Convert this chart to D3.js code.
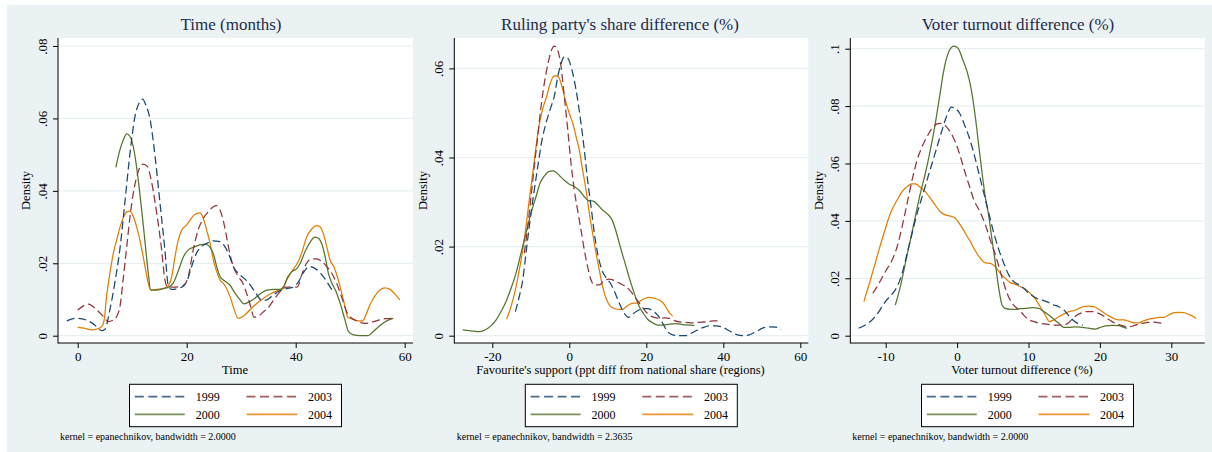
<!DOCTYPE html>
<html>
<head>
<meta charset="utf-8">
<script src="https://cdn.jsdelivr.net/npm/d3@7"></script>
<style>
  body { margin: 0; background: #ffffff; }
  svg text { font-family: "Liberation Serif", "Times New Roman", Times, serif; }
</style>
</head>
<body>
<svg id="chart" width="1212" height="452"></svg>
<script>
// ---- Data: kernel density estimates, [x, density] pairs per year ----
const years = ["1999", "2003", "2000", "2004"];

const time1999 = [[-2.0,.0041],[-0.2,.0048],[1.65,.0043],[3.5,.0025],[4.4,.0014],[5.0,.0018],[5.9,.0071],[6.8,.0145],[7.8,.0246],[8.7,.0375],[9.6,.0504],[10.5,.0605],[11.4,.0646],[11.9,.0653],[12.5,.0637],[13.3,.0596],[14.2,.0495],[15.1,.0366],[16.0,.0237],[16.6,.014],[17.2,.0128],[18.5,.0131],[19.4,.0137],[20.0,.0149],[20.9,.0191],[21.8,.0228],[22.75,.0246],[23.7,.0255],[24.9,.0262],[26.1,.026],[27.0,.0246],[27.9,.0218],[28.55,.0191],[29.8,.0168],[31.0,.0152],[31.9,.0135],[32.8,.0115],[33.8,.0097],[34.7,.0099],[35.9,.0113],[37.1,.0124],[38.3,.013],[39.6,.0134],[40.5,.0149],[41.4,.0174],[42.5,.0191],[43.5,.0186],[44.5,.0174],[45.4,.0156],[46.3,.0135],[47.0,.0119]];
const time2003 = [[0,.0071],[1.95,.0087],[3.5,.0071],[4.7,.0053],[5.6,.0039],[6.5,.0043],[7.15,.0053],[7.75,.008],[8.4,.0163],[9.0,.0246],[9.6,.0329],[10.3,.0402],[11.1,.0453],[12.0,.0474],[12.8,.0467],[13.6,.0421],[14.5,.0338],[15.4,.0237],[16.0,.0154],[16.45,.0135],[17.55,.0134],[18.8,.0135],[19.5,.014],[20.3,.0163],[21.2,.0237],[22.1,.0292],[23.05,.0324],[24.0,.0343],[24.9,.0356],[25.5,.0359],[26.1,.0347],[26.7,.0319],[27.3,.0274],[27.9,.0228],[28.55,.0191],[29.5,.0163],[30.3,.0145],[31.0,.0117],[31.75,.008],[32.35,.0051],[33.1,.0054],[34.1,.0066],[35.0,.0078],[35.9,.0097],[37.1,.0121],[38.3,.0134],[39.6,.0134],[40.3,.0135],[41.1,.0168],[42.0,.02],[42.9,.0212],[43.85,.0212],[44.8,.0205],[45.7,.0191],[46.6,.0173],[47.5,.0145],[48.4,.0108],[49.35,.0066],[50.3,.0048],[51.5,.0039],[52.7,.0034],[53.9,.0037],[55.2,.0043],[56.4,.0047],[57.9,.0048]];
const time2000 = [[7.0,.0465],[7.75,.0513],[8.4,.0542],[9.0,.0557],[9.6,.055],[10.2,.0522],[10.8,.0467],[11.4,.0393],[12.0,.031],[12.5,.0237],[12.95,.0172],[13.4,.0126],[14.5,.0126],[15.7,.013],[16.6,.0134],[17.55,.0146],[18.5,.0181],[19.4,.0218],[20.3,.0237],[21.2,.0244],[22.4,.0251],[23.5,.0253],[24.3,.0244],[24.9,.0226],[25.5,.0191],[26.2,.0161],[27.0,.0151],[27.9,.014],[28.9,.0117],[29.8,.0099],[30.5,.0088],[31.3,.0092],[32.2,.01],[33.45,.0115],[34.7,.0126],[35.9,.0128],[37.1,.0128],[37.85,.0137],[38.5,.0161],[39.3,.0177],[40.2,.0185],[40.9,.0202],[41.7,.0232],[42.6,.0257],[43.5,.0272],[44.15,.0269],[44.8,.0253],[45.4,.0218],[46.0,.0172],[46.6,.0146],[47.4,.0122],[48.25,.0085],[49.05,.0043],[49.7,.0011],[50.6,.0002],[51.8,0],[53.3,0],[53.9,.0007],[54.85,.002],[55.8,.0032],[56.7,.0041],[57.9,.0048]];
const time2004 = [[0,.0023],[1.35,.002],[2.55,.0016],[3.5,.0018],[4.4,.0025],[4.85,.0043],[5.3,.0108],[5.9,.0172],[6.55,.0228],[7.15,.0264],[7.75,.0299],[8.4,.0327],[9.0,.0342],[9.5,.0344],[10.1,.0333],[10.8,.0301],[11.55,.0255],[12.35,.0191],[12.95,.0145],[13.4,.0126],[14.5,.0128],[15.7,.0131],[16.45,.0135],[17.25,.0163],[17.85,.0218],[18.45,.0264],[19.1,.0292],[20.0,.0306],[20.6,.0318],[21.2,.0331],[21.95,.0338],[22.45,.0339],[23.05,.0324],[23.65,.0292],[24.3,.0255],[24.9,.0209],[25.5,.0177],[26.1,.0154],[26.7,.0145],[27.3,.0131],[27.95,.0108],[28.55,.008],[29.45,.0048],[30.3,.0053],[31.0,.0062],[31.9,.0076],[32.85,.0089],[34.05,.0103],[35.3,.0115],[36.5,.0124],[37.4,.0126],[38.35,.0154],[39.25,.0177],[40.3,.02],[41.1,.0228],[42.0,.0272],[42.9,.0294],[43.85,.0304],[44.45,.0301],[45.05,.0283],[45.7,.0246],[46.3,.0209],[47.05,.0189],[47.8,.0154],[48.45,.0117],[49.05,.008],[49.55,.0051],[50.45,.0046],[51.5,.0041],[52.3,.0041],[52.9,.0058],[53.6,.0085],[54.55,.011],[55.45,.0126],[56.4,.0132],[57.3,.0128],[58.2,.0115],[59.1,.0099]];

const share1999 = [[-14.0,.0054],[-13.0,.0088],[-12.1,.0125],[-11.25,.0185],[-10.4,.0245],[-9.35,.0312],[-8.2,.0379],[-7.1,.0439],[-6.05,.0477],[-4.75,.0514],[-3.9,.0537],[-3.0,.0581],[-2.15,.0611],[-1.3,.0626],[-0.4,.0623],[0.7,.0596],[1.75,.0552],[2.8,.0492],[3.9,.0417],[4.75,.0349],[5.65,.029],[6.5,.023],[7.35,.0185],[8.5,.0147],[9.5,.0131],[10.8,.0116],[11.95,.0095],[13.0,.0073],[14.3,.005],[15.4,.0041],[16.5,.0049],[17.75,.0056],[19.05,.0061],[20.35,.0061],[21.65,.0056],[22.95,.0046],[24.25,.0028],[25.55,.0009],[26.85,.0002],[28.6,0],[30.3,0],[31.6,.0005],[32.9,.0011],[34.65,.0018],[36.35,.0022],[38.1,.0022],[39.85,.0019],[41.55,.0011],[43.3,.0003],[45.0,0],[46.75,.0002],[48.5,.0009],[50.2,.0017],[51.95,.002],[53.7,.0019],[55.0,.0014]];
const share2003 = [[-11.7,.0185],[-10.8,.0245],[-9.95,.0312],[-9.1,.0379],[-8.2,.0447],[-7.35,.0514],[-6.5,.0566],[-5.6,.0608],[-4.75,.0638],[-3.9,.065],[-3.0,.0641],[-2.15,.0604],[-1.3,.0537],[-0.4,.0462],[0.45,.0387],[1.3,.0327],[2.15,.0282],[3.05,.0237],[3.9,.0192],[4.75,.0155],[5.65,.0125],[6.5,.0114],[7.8,.0114],[9.1,.0124],[10.4,.0127],[11.7,.0124],[13.0,.0118],[14.3,.0112],[15.6,.0103],[16.9,.0089],[18.2,.0073],[19.5,.0058],[20.8,.0046],[22.1,.0041],[23.4,.0039],[24.7,.004],[26.0,.0039],[27.3,.0034],[28.6,.0031],[30.3,.003],[32.05,.0029],[33.75,.003],[35.5,.0031],[37.25,.0033],[38.55,.0033]];
const share2000 = [[-27.7,.0013],[-25.5,.0011],[-23.4,.0009],[-21.65,.0014],[-20.35,.0022],[-19.05,.0035],[-17.75,.0054],[-16.45,.0076],[-15.15,.0106],[-13.85,.014],[-12.55,.0185],[-11.25,.023],[-9.95,.0275],[-8.65,.0312],[-7.6,.0342],[-6.5,.0358],[-5.2,.0369],[-4.3,.037],[-3.45,.0367],[-2.4,.0358],[-1.3,.0349],[0,.034],[1.3,.0335],[2.6,.0326],[3.9,.0312],[5.05,.0303],[6.25,.0302],[7.35,.0294],[8.65,.0282],[9.95,.0273],[11.1,.026],[12.15,.0234],[13.0,.0207],[13.85,.0181],[14.75,.0155],[15.6,.0129],[16.45,.0106],[17.3,.0084],[18.2,.0065],[19.25,.005],[20.35,.0037],[21.65,.0029],[22.95,.0024],[24.25,.0024],[26.0,.0026],[27.7,.0027],[29.45,.0025],[31.2,.0024],[32.5,.0023]];
const share2004 = [[-16.3,.0037],[-15.15,.0065],[-14.0,.0103],[-13.0,.0147],[-12.1,.0192],[-11.25,.0245],[-10.4,.0305],[-9.5,.0364],[-8.65,.0424],[-7.8,.0475],[-6.75,.0514],[-5.9,.0537],[-5.0,.0565],[-4.3,.058],[-3.65,.0584],[-2.75,.058],[-1.9,.0559],[-1.05,.0529],[0,.0499],[0.9,.0477],[1.75,.0447],[2.6,.0417],[3.45,.0372],[4.35,.0327],[5.2,.0275],[6.05,.023],[6.95,.0185],[7.8,.0147],[8.65,.011],[9.55,.0084],[10.55,.0067],[11.7,.0061],[13.0,.0059],[13.85,.0059],[14.75,.0065],[15.6,.007],[16.9,.0073],[17.75,.0073],[18.6,.0079],[19.75,.0084],[20.8,.0086],[22.1,.0084],[23.4,.008],[24.4,.0073],[25.3,.0061],[26.15,.005],[26.85,.0044]];

const turnout1999 = [[-13.8,.0026],[-12.85,.0037],[-11.9,.0055],[-10.95,.0084],[-10.05,.0119],[-9.1,.0145],[-8.4,.0171],[-7.7,.0217],[-7.0,.0287],[-6.3,.0357],[-5.6,.0426],[-4.9,.0484],[-4.2,.0543],[-3.5,.0601],[-2.8,.0659],[-2.1,.0717],[-1.4,.0769],[-0.8,.0796],[-0.25,.0792],[0.35,.0775],[0.95,.074],[1.65,.0694],[2.35,.0635],[3.05,.0566],[3.75,.0496],[4.45,.0426],[5.15,.0357],[5.85,.0299],[6.55,.0252],[7.25,.0211],[7.95,.0188],[8.65,.0177],[9.35,.0165],[10.05,.0148],[10.75,.0136],[11.45,.0127],[12.15,.0122],[12.85,.0115],[13.55,.0107],[14.25,.0101],[14.95,.009],[15.65,.0069],[16.35,.0052],[17.05,.0041],[17.6,.0037]];
const turnout2003 = [[-11.8,.0148],[-10.95,.0182],[-10.05,.0223],[-9.1,.0264],[-8.4,.031],[-7.7,.038],[-7.0,.0461],[-6.3,.0543],[-5.6,.0612],[-4.9,.0659],[-4.2,.0694],[-3.5,.0723],[-2.8,.0738],[-2.35,.074],[-1.75,.0734],[-1.15,.0717],[-0.6,.0694],[0,.0659],[0.6,.0612],[1.15,.0566],[1.75,.0519],[2.35,.0473],[2.95,.0444],[3.5,.0415],[4.05,.038],[4.65,.0333],[5.3,.0287],[5.85,.0241],[6.4,.0194],[7.0,.0148],[7.7,.0113],[8.4,.0095],[9.1,.0078],[9.8,.006],[10.75,.0049],[11.65,.0043],[12.6,.004],[13.55,.0037],[14.45,.0037],[15.4,.0041],[16.1,.0057],[16.8,.0072],[17.5,.008],[18.2,.0084],[18.9,.0084],[19.6,.008],[20.3,.0072],[21.0,.006],[21.7,.0049],[22.4,.0041],[23.1,.0035],[24.05,.0031],[24.75,.0035],[25.45,.0041],[26.4,.0045],[27.3,.0048],[28.25,.0045],[28.95,.0043]];
const turnout2000 = [[-8.65,.0107],[-7.95,.0171],[-7.25,.0252],[-6.55,.0333],[-5.85,.0415],[-5.15,.0496],[-4.45,.0566],[-3.75,.0647],[-3.05,.074],[-2.45,.0833],[-1.85,.0926],[-1.15,.099],[-0.45,.1009],[0.15,.1001],[0.8,.0961],[1.4,.092],[2.0,.0856],[2.55,.0763],[3.05,.0659],[3.5,.0566],[3.95,.0484],[4.45,.0415],[4.9,.0333],[5.3,.0264],[5.6,.0206],[5.95,.0148],[6.3,.0107],[6.75,.0095],[7.45,.0092],[8.15,.0092],[8.85,.0094],[9.55,.0095],[10.5,.0098],[11.45,.0095],[12.15,.0084],[12.85,.0072],[13.55,.0057],[14.25,.0043],[14.95,.0029],[15.65,.0029],[16.55,.0031],[17.5,.0029],[18.45,.0026],[19.35,.0023],[20.05,.0029],[20.8,.0034],[21.7,.0036],[22.65,.0035],[23.35,.0029],[23.8,.0026]];
const turnout2004 = [[-13.05,.0119],[-12.15,.0194],[-11.2,.0276],[-10.25,.0357],[-9.35,.0426],[-8.4,.0473],[-7.7,.0502],[-7.0,.0519],[-6.4,.0529],[-5.85,.0529],[-5.15,.0517],[-4.45,.0502],[-3.75,.0479],[-3.05,.0455],[-2.35,.0432],[-1.65,.0421],[-0.95,.0417],[-0.25,.0409],[0.45,.0386],[1.15,.0357],[1.85,.0328],[2.55,.0296],[3.25,.027],[3.95,.0254],[4.65,.0252],[5.35,.0241],[6.05,.0217],[6.75,.02],[7.45,.0185],[8.15,.0179],[8.85,.0171],[9.55,.0162],[10.25,.0148],[10.95,.0128],[11.65,.0101],[12.35,.0072],[12.95,.0049],[13.55,.0055],[14.25,.0066],[14.95,.0076],[15.65,.0084],[16.35,.0087],[17.05,.0095],[17.75,.0101],[18.45,.0103],[19.15,.0101],[19.85,.0092],[20.55,.008],[21.25,.0069],[21.95,.006],[22.65,.0055],[23.35,.0055],[24.05,.0051],[24.75,.0045],[25.45,.0045],[26.15,.0052],[26.85,.0058],[27.55,.006],[28.25,.0064],[28.95,.0064],[29.65,.0072],[30.35,.008],[31.05,.0081],[31.75,.008],[32.45,.0074],[33.15,.0066],[33.45,.006]];

// ---- Axis ticks and labels ----
const timeXTicks = [0, 20, 40, 60];
const timeYTicks = [0, .02, .04, .06, .08];
const timeYLabels = ["0", ".02", ".04", ".06", ".08"];
const shareXTicks = [-20, 0, 20, 40, 60];
const shareYTicks = [0, .02, .04, .06];
const shareYLabels = ["0", ".02", ".04", ".06"];
const turnoutXTicks = [-10, 0, 10, 20, 30];
const turnoutYTicks = [0, .02, .04, .06, .08, .1];
const turnoutYLabels = ["0", ".02", ".04", ".06", ".08", ".1"];

// ---- Texts ----
const panelTitles = ["Time (months)", "Ruling party's share difference (%)", "Voter turnout difference (%)"];
const xTitles = ["Time", "Favourite's support (ppt diff from national share (regions)", "Voter turnout difference (%)"];
const yTitle = "Density";
const notes = ["kernel = epanechnikov, bandwidth = 2.0000",
               "kernel = epanechnikov, bandwidth = 2.3635",
               "kernel = epanechnikov, bandwidth = 2.0000"];

// ---- Styles ----
const serif = '"Liberation Serif", "Times New Roman", Times, serif';
const style = {
  "1999": { color: "#1a476f", dash: "8,4" },
  "2003": { color: "#90353b", dash: "8,4" },
  "2000": { color: "#55752f", dash: null },
  "2004": { color: "#e37e00", dash: null }
};

const panels = [
  { series: { "1999": time1999, "2003": time2003, "2000": time2000, "2004": time2004 },
    xTicks: timeXTicks, yTicks: timeYTicks, yLabels: timeYLabels,
    left: 58, right: 413, xd: [0, 60], xr: [77.7, 404.7], yd: [0, .08], yr: [335.7, 46],
    titleX: 231, xTitleX: 235, note: 60 },
  { series: { "1999": share1999, "2003": share2003, "2000": share2000, "2004": share2004 },
    xTicks: shareXTicks, yTicks: shareYTicks, yLabels: shareYLabels,
    left: 454.3, right: 808.3, xd: [-20, 60], xr: [492.3, 800.3], yd: [0, .06], yr: [335.7, 68.4],
    titleX: 620, xTitleX: 620.5, note: 456.7 },
  { series: { "1999": turnout1999, "2003": turnout2003, "2000": turnout2000, "2004": turnout2004 },
    xTicks: turnoutXTicks, yTicks: turnoutYTicks, yLabels: turnoutYLabels,
    left: 850.3, right: 1204.7, xd: [-10, 30], xr: [885.7, 1171.3], yd: [0, .1], yr: [335.7, 48.7],
    titleX: 1018, xTitleX: 1022, note: 852.3 }
];

const plotTop = 38, plotBottom = 343;
const svg = d3.select("#chart");

// graph region background
svg.append("rect").attr("x", 7).attr("y", 5).attr("width", 1205).attr("height", 447).attr("fill", "#eaf2f3");

panels.forEach((p, i) => {
  const g = svg.append("g");
  const x = d3.scaleLinear().domain(p.xd).range(p.xr);
  const y = d3.scaleLinear().domain(p.yd).range(p.yr);

  // plot region
  g.append("rect").attr("x", p.left).attr("y", plotTop)
    .attr("width", p.right - p.left).attr("height", plotBottom - plotTop).attr("fill", "#ffffff");

  // horizontal gridlines
  g.selectAll("line.grid").data(p.yTicks).join("line").attr("class", "grid")
    .attr("x1", p.left).attr("x2", p.right)
    .attr("y1", d => y(d)).attr("y2", d => y(d))
    .attr("stroke", "#e6eff1").attr("stroke-width", 1.2);

  // density curves
  const line = d3.line().x(d => x(d[0])).y(d => y(d[1])).curve(d3.curveMonotoneX);
  ["2004", "2000", "2003", "1999"].forEach(yr => {
    g.append("path").datum(p.series[yr]).attr("d", line)
      .attr("fill", "none").attr("stroke", style[yr].color).attr("stroke-width", 1.25)
      .attr("stroke-dasharray", style[yr].dash).attr("stroke-linejoin", "round");
  });

  // axis lines
  g.append("line").attr("x1", p.left).attr("x2", p.left).attr("y1", plotTop).attr("y2", plotBottom + 0.5)
    .attr("stroke", "#000").attr("stroke-width", 1);
  g.append("line").attr("x1", p.left).attr("x2", p.right).attr("y1", plotBottom).attr("y2", plotBottom)
    .attr("stroke", "#000").attr("stroke-width", 1);

  // y axis ticks and rotated labels
  const ya = g.append("g").attr("transform", `translate(${p.left},0)`)
    .call(d3.axisLeft(y).tickValues(p.yTicks).tickFormat((d, k) => p.yLabels[k]).tickSize(5).tickSizeOuter(0));
  ya.select(".domain").remove();
  ya.attr("font-size", null).attr("font-family", null);
  ya.selectAll(".tick line").attr("stroke", "#000");
  ya.selectAll(".tick text").attr("transform", "rotate(-90)").attr("x", 0).attr("y", -11)
    .attr("dy", 0).attr("text-anchor", "middle").attr("fill", "#000")
    .style("font-size", "13px").style("font-family", serif);

  // x axis ticks and labels (plain hyphen for negatives)
  const xa = g.append("g").attr("transform", `translate(0,${plotBottom})`)
    .call(d3.axisBottom(x).tickValues(p.xTicks).tickFormat(d => String(d)).tickSize(5).tickSizeOuter(0));
  xa.select(".domain").remove();
  xa.attr("font-size", null).attr("font-family", null);
  xa.selectAll(".tick line").attr("stroke", "#000");
  xa.selectAll(".tick text").attr("y", 8).attr("dy", "0.74em").attr("fill", "#000")
    .style("font-size", "13px").style("font-family", serif);

  // titles
  g.append("text").attr("x", p.titleX).attr("y", 30).attr("text-anchor", "middle")
    .attr("fill", "#1e2b4c").style("font-size", "17px").style("font-family", serif).text(panelTitles[i]);
  g.append("text").attr("x", p.xTitleX).attr("y", 374).attr("text-anchor", "middle")
    .attr("fill", "#000").style("font-size", "12.5px").style("font-family", serif).text(xTitles[i]);
  g.append("text").attr("transform", `translate(${p.left - 27.7},${(plotTop + plotBottom) / 2}) rotate(-90)`)
    .attr("text-anchor", "middle").attr("fill", "#000").style("font-size", "12.5px")
    .style("font-family", serif).text(yTitle);

  // legend
  const lx = (p.left + p.right) / 2 - 106;
  const lg = g.append("g").attr("transform", `translate(${lx},384.3)`);
  lg.append("rect").attr("x", 0).attr("y", 0).attr("width", 212).attr("height", 42.4)
    .attr("fill", "#fff").attr("stroke", "#000").attr("stroke-width", 1);
  const cols = [{ l0: 5.3, l1: 55.3, t: 90.3 }, { l0: 117, l1: 168, t: 202.6 }];
  const rows = [{ ly: 12.4, ty: 16.8 }, { ly: 30, ty: 34.8 }];
  years.forEach((yr, k) => {
    const c = cols[k % 2], r = rows[Math.floor(k / 2)];
    lg.append("line").attr("x1", c.l0).attr("x2", c.l1).attr("y1", r.ly).attr("y2", r.ly)
      .attr("stroke", style[yr].color).attr("stroke-width", 1.8).attr("stroke-opacity", 0.8)
      .attr("stroke-dasharray", style[yr].dash ? "9,4.5" : null);
    lg.append("text").attr("x", c.t).attr("y", r.ty).attr("text-anchor", "end")
      .attr("fill", "#000").style("font-size", "12px").style("font-family", serif).text(yr);
  });

  // kernel note
  g.append("text").attr("x", p.note).attr("y", 440).attr("fill", "#000")
    .style("font-size", "10px").style("font-family", serif).text(notes[i]);
});
</script>
</body>
</html>
